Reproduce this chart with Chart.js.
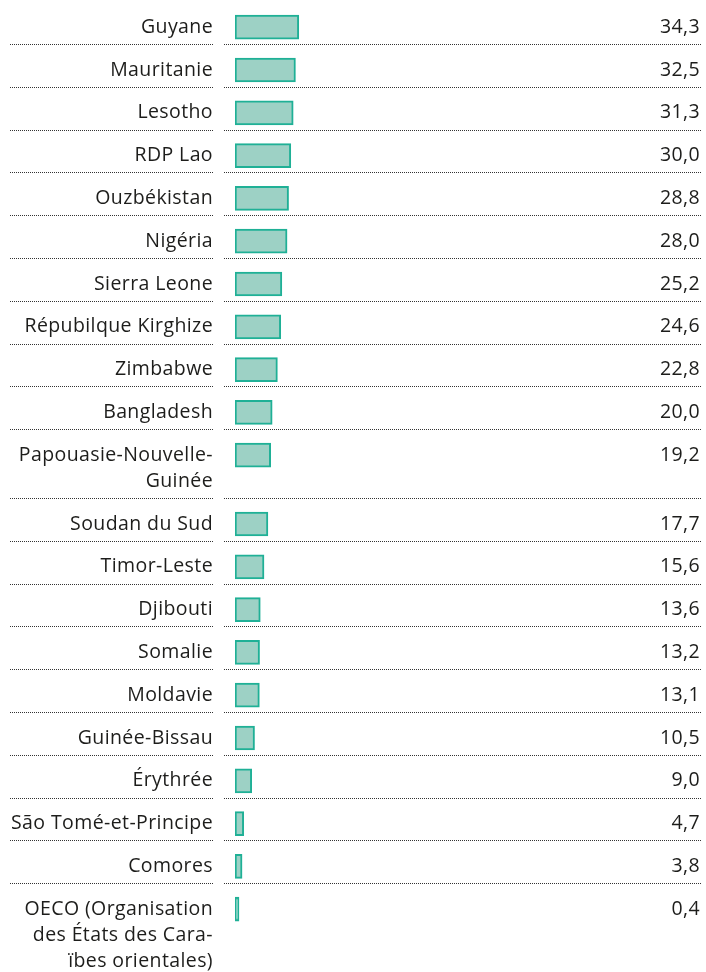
<!DOCTYPE html>
<html>
<head>
<meta charset="utf-8">
<script src="https://cdn.jsdelivr.net/npm/chart.js@4"></script>
<style>
    html, body { margin: 0; padding: 0; background: #fff; }
    canvas { display: block; }
</style>
</head>
<body>
<canvas id="myChart" width="706" height="972"></canvas>
<script>
const countries = [
    'Guyane', 'Mauritanie', 'Lesotho', 'RDP Lao', 'Ouzbékistan', 'Nigéria',
    'Sierra Leone', 'Répubilque Kirghize', 'Zimbabwe', 'Bangladesh',
    ['Papouasie-Nouvelle-', 'Guinée'],
    'Soudan du Sud', 'Timor-Leste', 'Djibouti', 'Somalie', 'Moldavie',
    'Guinée-Bissau', 'Érythrée', 'São Tomé-et-Principe', 'Comores',
    ['OECO (Organisation', 'des États des Cara-', 'ïbes orientales)']
];
const values = [34.3, 32.5, 31.3, 30.0, 28.8, 28.0, 25.2, 24.6, 22.8, 20.0, 19.2,
    17.7, 15.6, 13.6, 13.2, 13.1, 10.5, 9.0, 4.7, 3.8, 0.4];
const valueLabels = values.map(v => v.toFixed(1).replace('.', ','));

const X_MAX = 250;
const H = 972;
const LINE_H = 26;      // one text line
const ROW_PAD = 16.8;   // space added to each row
const TOP0 = 1.2;

// row layout, taller rows for labels on several lines
const rows = [];
let rowTop = TOP0;
countries.forEach(c => {
    const lines = Array.isArray(c) ? c : [c];
    const bottom = rowTop + ROW_PAD + LINE_H * lines.length;
    rows.push({ lines: lines, top: rowTop, mid: rowTop + LINE_H, bottom: bottom });
    rowTop = bottom;
});

const FONT = '19.5px "Open Sans", Roboto, sans-serif';

const textPlugin = {
    id: 'rowText',
    afterDraw(chart) {
        const ctx = chart.ctx;
        const y = chart.scales.y;
        ctx.save();
        ctx.font = FONT;
        ctx.letterSpacing = '0.4px';
        ctx.fillStyle = '#1d1d1b';
        ctx.textBaseline = 'middle';
        rows.forEach((r, i) => {
            const py = y.getPixelForValue(r.mid);
            ctx.textAlign = 'right';
            r.lines.forEach((t, k) => {
                ctx.fillText(t, 213, py + k * LINE_H);
            });
            ctx.fillText(valueLabels[i], 700, py);

            // dotted separator under each row except the last
            if (i < rows.length - 1) {
                const sy = Math.round(y.getPixelForValue(r.bottom)) + 0.5;
                ctx.strokeStyle = '#333';
                ctx.lineWidth = 1;
                ctx.setLineDash([1, 1]);
                ctx.beginPath();
                ctx.moveTo(10, sy);
                ctx.lineTo(214, sy);
                ctx.moveTo(224, sy);
                ctx.lineTo(702, sy);
                ctx.stroke();
            }
        });
        ctx.restore();
    }
};

const data = {
    datasets: [{
        data: values.map((v, i) => ({ x: v, y: rows[i].mid })),
        backgroundColor: '#9dd1c5',
        borderColor: '#1fb096',
        borderWidth: 2,
        borderSkipped: false,
        barThickness: 24,
        minBarLength: 4
    }]
};

const config = {
    type: 'bar',
    data: data,
    options: {
        indexAxis: 'y',
        responsive: false,
        animation: false,
        devicePixelRatio: 1,
        layout: { padding: { left: 235, right: 6, top: 0, bottom: 0 } },
        scales: {
            x: { type: 'linear', min: 0, max: X_MAX, display: false, offset: false },
            y: {
                type: 'linear', min: 0, max: H, reverse: true, display: false,
                offset: false, grid: { offset: false }
            }
        },
        plugins: {
            legend: { display: false },
            tooltip: { enabled: false }
        }
    },
    plugins: [textPlugin]
};

// eslint-disable-next-line no-undef
const myChart = new Chart(document.getElementById('myChart'), config);
</script>
</body>
</html>
